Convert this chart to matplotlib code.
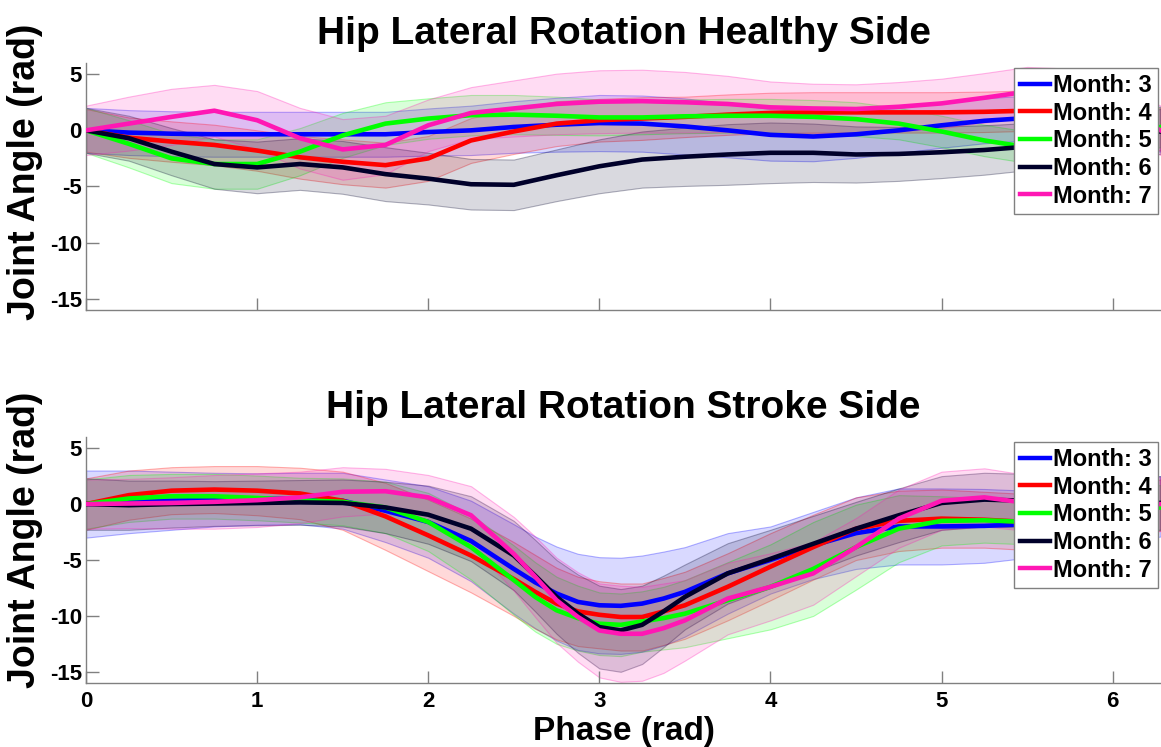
import numpy as np
import matplotlib
matplotlib.use("Agg")
import matplotlib.pyplot as plt
from matplotlib.colors import to_rgba

plt.rcParams['font.family'] = ['Liberation Sans', 'DejaVu Sans']
plt.rcParams['font.weight'] = 'bold'
plt.rcParams['axes.unicode_minus'] = False

# gait phase samples (rad) for each side
healthy_phase = [0.0, 0.25, 0.5, 0.75, 1.0, 1.25, 1.5, 1.75, 2.0, 2.25, 2.5, 2.75, 3.0,
                 3.25, 3.5, 3.75, 4.0, 4.25, 4.5, 4.75, 5.0, 5.25, 5.5, 5.75, 6.0, 6.28]
stroke_phase = [0.0, 0.25, 0.5, 0.75, 1.0, 1.25, 1.5, 1.75, 2.0, 2.25, 2.5, 2.625, 2.75,
                2.875, 3.0, 3.125, 3.25, 3.375, 3.5, 3.75, 4.0, 4.25, 4.5, 4.75, 5.0,
                5.25, 5.5, 5.75, 6.0, 6.28]

months = ["Month: 3", "Month: 4", "Month: 5", "Month: 6", "Month: 7"]
colors = ["#0000ff", "#ff0000", "#00ff00", "#00002a", "#ff17b4"]

# healthy side: mean joint angle per month
healthy_m3 = [0, -0.2, -0.3, -0.35, -0.35, -0.35, -0.35, -0.35, -0.15, 0.0, 0.3, 0.5, 0.65,
              0.6, 0.35, 0.0, -0.4, -0.55, -0.35, 0.0, 0.45, 0.85, 1.1, 1.0, 0.6, 0.1]
healthy_m4 = [0, -0.65, -1.0, -1.3, -1.8, -2.4, -2.8, -3.1, -2.5, -0.9, -0.1, 0.6, 0.9,
              1.05, 1.2, 1.4, 1.55, 1.6, 1.6, 1.6, 1.6, 1.65, 1.75, 1.6, 1.0, 0.1]
healthy_m5 = [0, -1.2, -2.5, -3.0, -3.0, -1.9, -0.45, 0.6, 1.05, 1.35, 1.4, 1.3, 1.15,
              1.15, 1.25, 1.3, 1.3, 1.2, 1.0, 0.6, -0.1, -0.9, -1.5, -1.3, -0.5, 0.3]
healthy_m6 = [0, -0.7, -1.9, -3.0, -3.3, -3.0, -3.3, -3.9, -4.3, -4.8, -4.85, -4.0, -3.2,
              -2.6, -2.35, -2.15, -2.0, -2.0, -2.15, -2.1, -1.95, -1.75, -1.45, -1.0, -0.5, -0.1]
healthy_m7 = [0, 0.6, 1.2, 1.75, 0.9, -0.7, -1.7, -1.3, 0.45, 1.55, 1.95, 2.35, 2.55,
              2.6, 2.5, 2.35, 2.05, 1.95, 1.9, 2.1, 2.4, 2.9, 3.45, 3.3, 2.0, 0.0]

# healthy side: standard deviation per month
healthy_s3 = [2.0, 2.0, 2.0, 2.0, 2.0, 2.0, 2.0, 2.0, 2.1, 2.2, 2.3, 2.4, 2.5,
              2.5, 2.5, 2.4, 2.3, 2.2, 2.1, 2.0, 2.0, 2.0, 2.0, 2.0, 2.0, 2.0]
healthy_s4 = [1.9, 1.8, 1.8, 1.8, 1.8, 1.9, 2.0, 2.0, 2.0, 2.0, 2.0, 2.0, 1.9,
              1.9, 1.8, 1.8, 1.8, 1.8, 1.8, 1.8, 1.8, 1.8, 1.8, 1.8, 1.9, 1.9]
healthy_s5 = [2.0, 2.1, 2.2, 2.2, 2.2, 2.1, 2.0, 1.9, 1.8, 1.8, 1.75, 1.7, 1.6,
              1.5, 1.5, 1.5, 1.5, 1.5, 1.5, 1.4, 1.4, 1.4, 1.4, 1.5, 1.7, 1.8]
healthy_s6 = [2.0, 2.0, 2.1, 2.2, 2.3, 2.3, 2.35, 2.4, 2.3, 2.25, 2.25, 2.3, 2.4,
              2.5, 2.6, 2.7, 2.7, 2.6, 2.5, 2.4, 2.3, 2.2, 2.1, 2.0, 2.0, 2.0]
healthy_s7 = [2.2, 2.4, 2.5, 2.3, 2.6, 2.7, 2.7, 2.6, 2.3, 2.3, 2.5, 2.7, 2.8,
              2.8, 2.7, 2.5, 2.3, 2.2, 2.2, 2.2, 2.2, 2.2, 2.2, 2.2, 2.2, 2.2]

# stroke side: mean joint angle per month
stroke_m3 = [0, 0.2, 0.3, 0.4, 0.45, 0.5, 0.3, -0.6, -1.6, -3.3, -5.8, -7.0, -8.0, -8.75,
             -9.05, -9.1, -8.9, -8.45, -7.85, -6.2, -5.0, -3.7, -2.6, -2.0, -2.0, -1.95,
             -1.8, -1.4, -0.8, -0.2]
stroke_m4 = [0, 0.8, 1.2, 1.3, 1.2, 0.95, 0.3, -1.1, -2.8, -4.6, -6.7, -7.85, -8.9, -9.6,
             -9.9, -10.1, -10.1, -9.6, -9.05, -7.4, -5.6, -3.85, -2.2, -1.5, -1.3, -1.4,
             -1.6, -1.3, -0.7, -0.1]
stroke_m5 = [0, 0.5, 0.7, 0.7, 0.55, 0.35, 0.2, -0.3, -1.6, -3.85, -6.8, -8.3, -9.5, -10.2,
             -10.7, -10.8, -10.5, -10.2, -9.8, -8.6, -7.4, -5.8, -3.85, -2.2, -1.5, -1.45,
             -1.6, -1.3, -0.7, -0.3]
stroke_m6 = [0, -0.1, 0.0, 0.05, 0.1, 0.15, 0.1, -0.3, -0.95, -2.2, -4.6, -6.4, -8.3, -9.8,
             -11.0, -11.3, -10.8, -9.6, -8.3, -6.2, -4.9, -3.55, -2.2, -1.0, 0.1, 0.4,
             0.3, 0.2, 0.1, 0.1]
stroke_m7 = [0, 0.05, 0.1, 0.2, 0.35, 0.6, 1.1, 1.15, 0.6, -1.0, -4.45, -6.5, -8.6, -10.1,
             -11.3, -11.6, -11.6, -11.1, -10.4, -8.45, -7.4, -6.2, -3.85, -1.3, 0.3, 0.6,
             0.1, 0.1, 0.1, 0.0]

# stroke side: standard deviation per month
stroke_s3 = [3.0, 2.8, 2.6, 2.4, 2.3, 2.3, 2.5, 2.8, 3.2, 3.6, 4.0, 4.1, 4.2, 4.3, 4.3,
             4.3, 4.3, 4.2, 4.0, 3.6, 3.0, 3.0, 3.2, 3.4, 3.4, 3.3, 3.0, 2.8, 2.7, 2.7]
stroke_s4 = [2.3, 2.2, 2.1, 2.1, 2.2, 2.3, 2.6, 3.0, 3.2, 3.3, 3.3, 3.3, 3.2, 3.1, 3.0,
             3.0, 3.0, 3.0, 3.0, 3.0, 3.0, 2.9, 2.8, 2.7, 2.6, 2.5, 2.5, 2.4, 2.3, 2.3]
stroke_s5 = [2.2, 2.1, 2.0, 2.0, 2.0, 2.0, 2.1, 2.3, 2.6, 2.9, 3.1, 3.1, 3.0, 2.9, 2.8,
             2.8, 2.7, 2.8, 3.0, 3.4, 3.8, 4.2, 3.8, 3.0, 2.2, 2.0, 2.0, 2.0, 2.0, 2.0]
stroke_s6 = [2.3, 2.2, 2.1, 2.0, 2.0, 2.0, 2.1, 2.3, 2.6, 2.9, 3.1, 3.2, 3.3, 3.5, 3.7,
             3.7, 3.5, 3.2, 2.9, 2.7, 2.6, 2.5, 2.4, 2.4, 2.4, 2.4, 2.4, 2.4, 2.4, 2.4]
stroke_s7 = [2.2, 2.2, 2.3, 2.4, 2.4, 2.3, 2.2, 2.0, 2.0, 2.6, 3.3, 3.6, 3.8, 4.0, 4.2,
             4.3, 4.2, 4.0, 3.6, 3.2, 3.0, 2.8, 2.6, 2.6, 2.6, 2.6, 2.5, 2.4, 2.4, 2.4]

healthy_means = [healthy_m3, healthy_m4, healthy_m5, healthy_m6, healthy_m7]
healthy_stds = [healthy_s3, healthy_s4, healthy_s5, healthy_s6, healthy_s7]
stroke_means = [stroke_m3, stroke_m4, stroke_m5, stroke_m6, stroke_m7]
stroke_stds = [stroke_s3, stroke_s4, stroke_s5, stroke_s6, stroke_s7]

AXIS_GRAY = "#808080"


def draw_panel(ax, phase, means, stds, title, show_xlabels):
    x = np.array(phase)
    # shaded mean +/- sd bands first, mean curves on top
    for m, s, c in zip(means, stds, colors):
        m = np.array(m)
        s = np.array(s)
        ax.fill_between(x, m - s, m + s, facecolor=to_rgba(c, 0.15),
                        edgecolor=to_rgba(c, 0.3), linewidth=0.8, zorder=1)
    handles = []
    for m, c, lab in zip(means, colors, months):
        h, = ax.plot(x, m, color=c, linewidth=3.3, label=lab, zorder=3,
                     solid_joinstyle='round')
        handles.append(h)

    ax.set_xlim(0, 2 * np.pi)
    ax.set_ylim(-16, 6)
    ax.set_yticks([-15, -10, -5, 0, 5])
    ax.set_xticks([0, 1, 2, 3, 4, 5, 6])
    if not show_xlabels:
        ax.set_xticklabels([])
    for side in ("top", "right"):
        ax.spines[side].set_visible(False)
    for side in ("left", "bottom"):
        ax.spines[side].set_color(AXIS_GRAY)
        ax.spines[side].set_linewidth(1.0)
    ax.tick_params(direction='in', length=9, width=1.0, color=AXIS_GRAY, labelsize=16)
    ax.tick_params(axis='x', pad=6)
    ax.tick_params(axis='y', pad=3)
    for lab in ax.get_xticklabels() + ax.get_yticklabels():
        lab.set_fontweight('bold')

    ax.set_title(title, fontsize=28, fontweight='bold', pad=14)
    ax.set_ylabel("Joint Angle (rad)", fontsize=27, fontweight='bold')

    leg = ax.legend(handles=handles, loc='upper right', bbox_to_anchor=(0.997, 0.98),
                    borderaxespad=0, fontsize=17, frameon=True, fancybox=False,
                    framealpha=1, edgecolor=AXIS_GRAY, handlelength=1.25,
                    handletextpad=0.15, labelspacing=0.2, borderpad=0.25)
    leg.get_frame().set_linewidth(1.0)
    for line in leg.get_lines():
        line.set_linewidth(3.2)
    for t in leg.get_texts():
        t.set_fontweight('bold')


fig = plt.figure(figsize=(11.61, 7.47), dpi=100)
ax_top = fig.add_axes([0.0741, 0.585, 0.926, 0.3307])
ax_bot = fig.add_axes([0.0741, 0.0857, 0.926, 0.3293])

draw_panel(ax_top, healthy_phase, healthy_means, healthy_stds,
           "Hip Lateral Rotation Healthy Side", False)
draw_panel(ax_bot, stroke_phase, stroke_means, stroke_stds,
           "Hip Lateral Rotation Stroke Side", True)

ax_top.yaxis.set_label_coords(-0.040, 0.56)
ax_bot.yaxis.set_label_coords(-0.040, 0.58)
ax_bot.set_xlabel("Phase (rad)", fontsize=24, fontweight='bold', labelpad=3)

fig.savefig("out.png", dpi=100)
plt.close(fig)
